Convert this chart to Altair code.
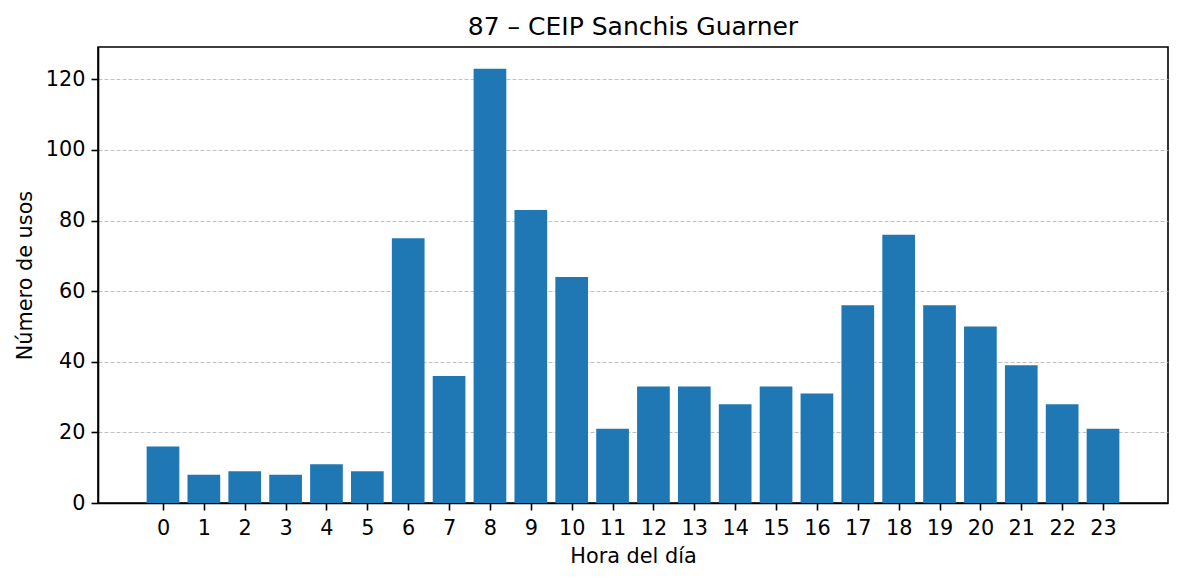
import altair as alt
import pandas as pd

horas = list(range(24))
usos = [16, 8, 9, 8, 11, 9, 75, 36, 123, 83, 64, 21, 33, 33, 28, 33, 31, 56, 76, 56, 50, 39, 28, 21]

df = pd.DataFrame({"hora": horas, "usos": usos})

FONT = "DejaVu Sans"

chart = (
    alt.Chart(df)
    .transform_calculate(x0="datum.hora - 0.4", x1="datum.hora + 0.4")
    .mark_bar(color="#1f77b4")
    .encode(
        x=alt.X(
            "x0:Q",
            scale=alt.Scale(domain=[-1.59, 24.59], nice=False, zero=False),
            axis=alt.Axis(
                title="Hora del día",
                values=horas,
                format="d",
                grid=False,
                labelAngle=0,
                tickSize=7,
                tickWidth=1.6,
                tickColor="black",
                labelPadding=8,
                titlePadding=9,
                domain=True,
                domainColor="black",
                domainWidth=1.6,
            ),
        ),
        x2="x1:Q",
        y=alt.Y(
            "usos:Q",
            scale=alt.Scale(domain=[0, 129.15], nice=False),
            axis=alt.Axis(
                title="Número de usos",
                values=[0, 20, 40, 60, 80, 100, 120],
                grid=True,
                gridColor="#b0b0b0",
                gridWidth=0.8,
                gridDash=[4, 2],
                tickSize=7,
                tickWidth=1.6,
                tickColor="black",
                labelPadding=6,
                titlePadding=10,
                domain=True,
                domainColor="black",
                domainWidth=1.6,
            ),
        ),
        y2=alt.datum(0),
    )
    .properties(
        width=1070,
        height=456,
        title=alt.TitleParams(
            "87 – CEIP Sanchis Guarner",
            font=FONT,
            fontSize=25,
            fontWeight="normal",
            color="black",
            offset=7,
        ),
        autosize=alt.AutoSizeParams(type="none"),
        padding={"left": 98, "top": 47, "right": 16, "bottom": 78},
        background="white",
    )
    .configure_view(stroke="black", strokeWidth=1.6)
    .configure_axis(
        labelFont=FONT,
        titleFont=FONT,
        labelFontSize=20.8,
        titleFontSize=20.8,
        titleFontWeight="normal",
        labelColor="black",
        titleColor="black",
    )
)

chart.save("out.html", embed_options={"renderer": "svg", "actions": False})
